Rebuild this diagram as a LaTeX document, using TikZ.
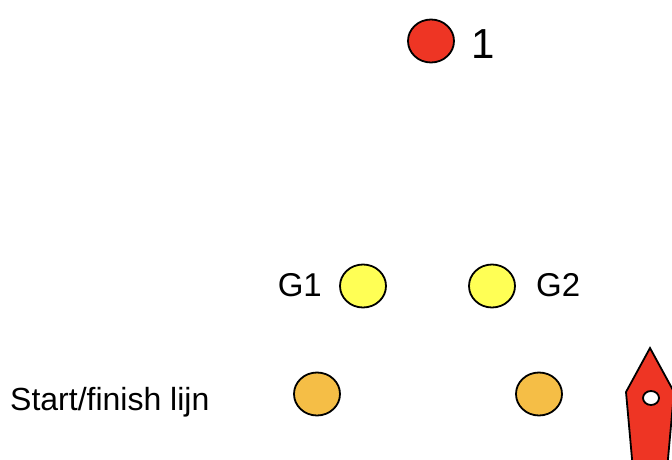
\documentclass[tikz,border=0pt]{standalone}
\usepackage{fontspec}
\setmainfont{Liberation Sans}
\usetikzlibrary{shapes.geometric}
\definecolor{boeired}{RGB}{238,53,36}
\definecolor{boeiyellow}{RGB}{255,255,85}
\definecolor{boeiorange}{RGB}{245,190,70}
\tikzset{
	boei/.style = {ellipse, draw=black, line width=1.8pt, minimum width=46pt, minimum height=43pt, inner sep=0pt},
	markboei/.style = {boei, fill=boeired},
	gateboei/.style = {boei, fill=boeiyellow},
	startboei/.style = {boei, fill=boeiorange},
	label/.style = {inner sep=0pt, font=\fontsize{33}{38}\selectfont},
	biglabel/.style = {inner sep=0pt, font=\fontsize{42}{48}\selectfont}
}
\begin{document}
\begin{tikzpicture}[x=1pt, y=-1pt]
		\useasboundingbox (0,0) rectangle (672,460);
		% boeien
		\node [markboei] (m1) at (431,41) {};
		\node [gateboei] (g1) at (363,286) {};
		\node [gateboei] (g2) at (492,286) {};
		\node [startboei] (s1) at (317,394) {};
		\node [startboei] (s2) at (539,394) {};
		% teksten
		\node [biglabel, anchor=base west] (t1) at (471,59) {1};
		\node [label, anchor=base east] (tg1) at (322,296) {G1};
		\node [label, anchor=base west] (tg2) at (536,296) {G2};
		\node [label, font=\fontsize{32}{38}\selectfont, anchor=base west] (tstart) at (10,410) {Start/finish lijn};
		% startschip
		\begin{scope}
			\clip (0,0) rectangle (672,460);
			\draw [fill=boeired, line width=1.8pt, line join=miter] (650,348) -- (626,392) -- (633,470) -- (667,470) -- (674,392) -- cycle;
			\draw [fill=white, line width=1.8pt] (651,398) ellipse (8pt and 7pt);
		\end{scope}
\end{tikzpicture}
\end{document}
